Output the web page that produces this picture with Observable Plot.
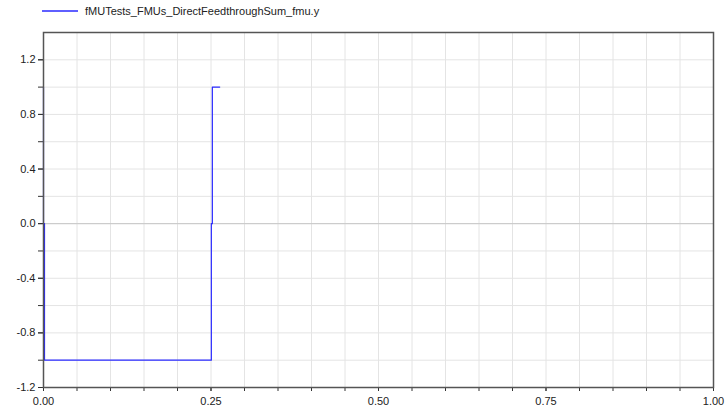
<!DOCTYPE html>
<html>
<head>
<meta charset="utf-8">
<script src="https://cdn.jsdelivr.net/npm/d3@7"></script>
<script src="https://cdn.jsdelivr.net/npm/@observablehq/plot@0.6"></script>
<style>
  html, body { margin: 0; padding: 0; background: #fff; }
  #wrap { position: relative; width: 726px; height: 419px; font-family: "Liberation Sans", Arial, sans-serif; }
  #chart { position: absolute; left: 0; top: 0; }
  #legend { position: absolute; left: 42px; top: 5px; font-size: 11px; color: #222; display: flex; align-items: center; z-index: 2; }
  #legend svg { margin-right: 7px; }
</style>
</head>
<body>
<div id="wrap">
  <div id="chart"></div>
  <div id="legend"><svg width="36" height="6"><line x1="0" y1="3" x2="36" y2="3" stroke="#2a2aff" stroke-width="1.3"></line></svg><span id="legendText"></span></div>
</div>
<script>
const seriesName = "fMUTests_FMUs_DirectFeedthroughSum_fmu.y";
const timeValues = [0, 0, 0.0015, 0.0015, 0.2505, 0.2505, 0.252, 0.252, 0.263];
const yValues    = [1, 0, 0, -1, -1, 0, 0, 1, 1];
const xMajorTicks = [0, 0.25, 0.5, 0.75, 1.0];
const xMinorTicks = [0,0.05,0.1,0.15,0.2,0.25,0.3,0.35,0.4,0.45,0.5,0.55,0.6,0.65,0.7,0.75,0.8,0.85,0.9,0.95,1.0];
const yMajorTicks = [-1.2, -0.8, -0.4, 0.0, 0.4, 0.8, 1.2];
const yMinorTicks = [-1.2,-1.0,-0.8,-0.6,-0.4,-0.2,0,0.2,0.4,0.6,0.8,1.0,1.2,1.4];

document.getElementById("legendText").textContent = seriesName;
const data = timeValues.map((t, i) => ({t, y: yValues[i]}));

const fmt = (digits) => d => (Math.abs(d) < 1e-9 ? 0 : d).toFixed(digits);

const chart = Plot.plot({
  width: 726,
  height: 419,
  marginTop: 32,
  marginLeft: 43,
  marginRight: 13,
  marginBottom: 32,
  style: { fontFamily: "'Liberation Sans', Arial, sans-serif", fontSize: "11px", color: "#222", background: "#fff" },
  x: { domain: [0, 1], label: null },
  y: { domain: [-1.2, 1.4], label: null },
  marks: [
    Plot.gridX(xMinorTicks, { stroke: "#e4e4e4", strokeOpacity: 1 }),
    Plot.gridY(yMinorTicks, { stroke: "#e4e4e4", strokeOpacity: 1 }),
    Plot.ruleY([0], { stroke: "#c8c8c8" }),
    Plot.axisX({ ticks: xMinorTicks, tickFormat: () => "", tickSize: 4, stroke: "#333", label: null }),
    Plot.axisX({ ticks: xMajorTicks, tickFormat: fmt(2), tickSize: 4, tickPadding: 6, stroke: "#333", label: null }),
    Plot.axisY({ ticks: yMinorTicks.filter(v => v <= 1.2), tickFormat: () => "", tickSize: 5, stroke: "#333", label: null }),
    Plot.axisY({ ticks: yMajorTicks, tickFormat: fmt(1), tickSize: 5, tickPadding: 3, stroke: "#333", label: null }),
    Plot.line(data, { x: "t", y: "y", stroke: "#2a2aff", strokeWidth: 1.2, curve: "linear" }),
    Plot.frame({ stroke: "#555", strokeWidth: 1.5 })
  ]
});
document.getElementById("chart").appendChild(chart);
</script>
</body>
</html>
